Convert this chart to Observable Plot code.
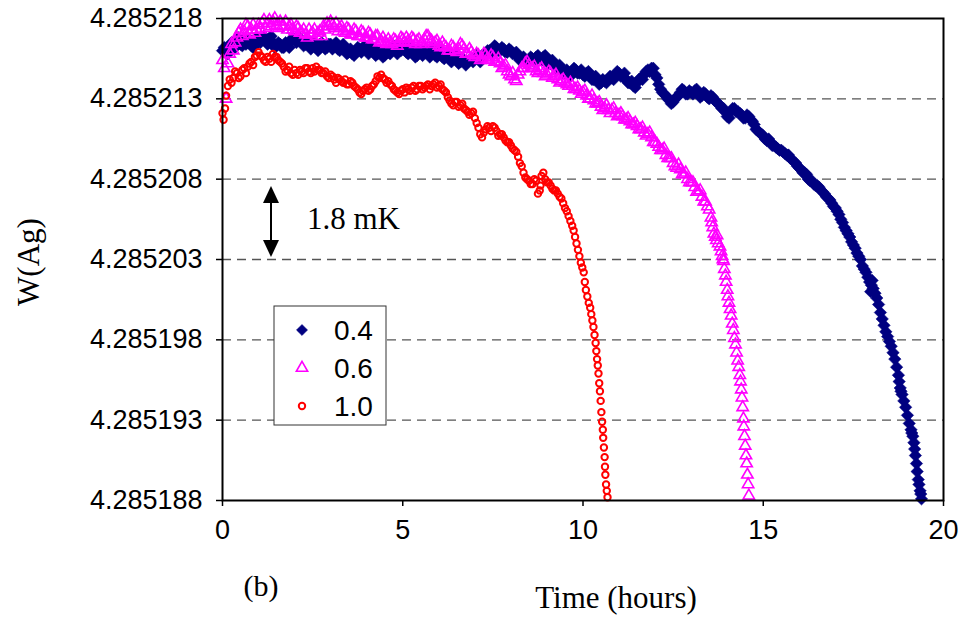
<!DOCTYPE html>
<html><head><meta charset="utf-8">
<script src="https://cdn.jsdelivr.net/npm/d3@7"></script>
<script src="https://cdn.jsdelivr.net/npm/@observablehq/plot@0.6"></script>
<style>body{margin:0;background:#fff}#chart svg{display:block}</style>
</head><body><div id="chart"></div><script>
// Values: [time (hours), W(Ag) offset in units of 1e-6 above 4.285]
const W_BASE = 4.285;
const xTicks = [0, 5, 10, 15, 20];
const yTicks = [4.285188, 4.285193, 4.285198, 4.285203, 4.285208, 4.285213, 4.285218];
const seriesNames = ["0.4", "0.6", "1.0"];

// Series 0.4 (navy diamonds)
const s04 = [
[0,216.0],[0.1,215.9],[0.2,216.2],[0.3,216.3],[0.4,216.5],[0.5,216.4],[0.6,216.7],[0.7,216.5],[0.8,216.3],[0.9,216.5],
[1.0,216.6],[1.1,216.8],[1.2,216.6],[1.3,216.7],[1.4,216.5],[1.5,216.3],[1.6,216.4],[1.7,216.2],[1.8,216.4],[1.9,216.6],
[2.0,216.7],[2.1,216.9],[2.2,216.6],[2.3,216.4],[2.4,216.3],[2.5,216.4],[2.6,216.2],[2.7,216.4],[2.8,216.3],[2.9,216.2],
[3.0,216.4],[3.1,216.3],[3.2,216.1],[3.3,216.2],[3.4,216.1],[3.5,215.9],[3.6,215.8],[3.7,216.0],[3.8,216.1],[3.9,216.2],
[4.0,216.0],[4.1,216.1],[4.2,215.9],[4.3,215.8],[4.4,215.9],[4.5,215.7],[4.6,215.9],[4.7,216.1],[4.8,216.0],[4.9,216.2],
[5.0,216.1],[5.1,215.9],[5.2,216.0],[5.3,215.8],[5.4,215.7],[5.5,215.9],[5.6,216.0],[5.7,215.8],[5.8,215.9],[5.9,215.7],
[6.0,215.8],[6.1,215.6],[6.2,215.7],[6.3,215.5],[6.4,215.6],[6.5,215.4],[6.6,215.3],[6.7,215.4],[6.8,215.3],[6.9,215.5],
[7.0,215.6],[7.1,215.5],[7.2,215.7],[7.3,215.8],[7.4,216.0],[7.5,216.1],[7.6,216.2],[7.7,216.0],[7.8,216.1],[7.9,215.9],
[8.0,216.0],[8.1,215.8],[8.2,215.6],[8.3,215.4],[8.4,215.3],[8.5,215.4],[8.6,215.5],[8.7,215.6],[8.8,215.5],[8.9,215.6],
[9.0,215.4],[9.1,215.2],[9.2,215.1],[9.3,215.0],[9.4,214.8],[9.5,214.6],[9.6,214.5],[9.7,214.7],[9.8,214.8],[9.9,214.6],
[10.0,214.5],[10.1,214.6],[10.2,214.4],[10.3,214.2],[10.4,214.1],[10.5,214.0],[10.6,214.1],[10.7,214.2],[10.8,214.3],[10.9,214.5],
[11.0,214.6],[11.1,214.4],[11.2,214.2],[11.3,214.0],[11.4,213.8],[11.5,214.0],[11.6,214.3],[11.7,214.5],[11.8,214.8],[11.9,214.9],
[12.0,214.5],[12.1,213.9],[12.2,213.4],[12.3,213.2],[12.4,212.9],[12.5,212.8],[12.6,213.1],[12.7,213.4],[12.8,213.5],[12.9,213.3],
[13.0,213.4],[13.1,213.5],[13.2,213.3],[13.3,213.2],[13.4,213.3],[13.5,213.0],[13.6,213.1],[13.7,212.8],[13.8,212.6],[13.9,212.4],
[14.0,211.9],[14.1,212.2],[14.2,212.4],[14.3,212.2],[14.4,212.0],[14.5,211.8],[14.6,211.9],[14.7,211.6],[14.8,211.1],[14.9,210.9],
[15.0,210.7],[15.1,210.4],[15.2,210.3],[15.3,210.1],[15.4,209.9],[15.5,209.8],[15.6,209.6],[15.7,209.5],[15.8,209.2],[15.9,209.0],
[16.0,208.7],[16.1,208.4],[16.2,208.3],[16.3,207.9],[16.4,207.7],[16.5,207.6],[16.6,207.3],[16.7,207.1],[16.8,206.8],[16.9,206.5],
[17.0,206.2],[17.05,206.0],[17.1,205.8],[17.15,205.5],[17.2,205.3],[17.25,205.0],[17.3,204.8],[17.35,204.6],[17.4,204.4],[17.45,204.1],
[17.5,203.9],[17.55,203.7],[17.6,203.4],[17.65,203.2],[17.7,203.0],[17.75,202.6],[17.8,202.4],[17.85,202.2],[17.9,201.9],[17.95,201.6],
[18.0,201.4],[18.05,201.2],[18.1,200.9],[18.15,200.6],[18.2,200.2],[18.25,199.7],[18.3,199.3],[18.35,198.9],[18.4,198.5],[18.45,198.2],
[18.5,197.9],[18.55,197.6],[18.6,197.2],[18.65,196.8],[18.7,196.3],[18.75,195.8],[18.8,195.0],[18.85,194.6],[18.9,194.2],[18.95,193.8],
[19.0,193.3],[19.05,192.8],[19.1,192.4],[19.15,192.0],[19.2,191.2],[19.25,190.3],[19.3,189.3],[19.35,188.6],[19.39,188.1]
];
// Series 0.4, scattered readings between the ones above
const s04b = [
[0.05,216.2],[0.15,215.8],[0.25,216.5],[0.35,216.2],[0.45,216.8],[0.55,216.3],[0.65,216.4],[0.75,216.7],[0.85,216.2],[0.95,216.8],
[1.05,216.5],[1.15,216.9],[1.25,216.4],[1.35,216.9],[1.45,216.2],[1.55,216.5],[1.65,216.2],[1.75,216.5],[1.85,216.2],[1.95,216.8],
[2.05,216.5],[2.15,216.7],[2.25,216.3],[2.35,216.6],[2.45,216.1],[2.55,216.5],[2.65,216.0],[2.75,216.5],[2.85,216.1],[2.95,216.4],
[3.05,216.1],[3.15,216.5],[3.25,216.0],[3.35,216.4],[3.45,215.8],[3.55,216.1],[3.65,215.7],[3.75,216.2],[3.85,215.9],[3.95,216.3],
[4.05,215.8],[4.15,216.2],[4.25,215.7],[4.35,216.0],[4.45,215.6],[4.55,216.0],[4.65,215.8],[4.75,216.3],[4.85,215.8],[4.95,216.0],
[5.05,216.3],[5.15,215.8],[5.25,216.2],[5.35,215.6],[5.45,216.0],[5.55,215.7],[5.65,216.1],[5.75,215.6],[5.85,216.1],[5.95,215.6],
[6.05,216.0],[6.15,215.5],[6.25,215.9],[6.35,215.3],[6.45,215.8],[6.55,215.2],[6.65,215.5],[6.75,215.1],[6.85,215.4],[6.95,215.3],
[7.05,215.7],[7.15,215.3],[7.25,215.6],[7.35,216.0],[7.45,215.8],[7.55,216.3],[7.65,216.0],[7.75,216.2],[7.85,215.9],[7.95,216.1],
[8.05,215.8],[8.15,215.9],[8.25,215.4],[8.35,215.6],[8.45,215.2],[8.55,215.6],[8.65,215.3],[8.75,215.7],[8.85,215.4],[8.95,215.7],
[9.05,215.2],[9.15,215.4],[9.25,214.9],[9.35,215.1],[9.45,214.6],[9.55,214.8],[9.65,214.4],[9.75,214.9],[9.85,214.6],[9.95,214.8],
[10.05,214.4],[10.15,214.7],[10.25,214.2],[10.35,214.4],[10.45,213.9],[10.55,214.2],[10.65,214.0],[10.75,214.4],[10.85,214.2],[10.95,214.7],
[11.05,214.4],[11.15,214.6],[11.25,214.0],[11.35,214.1],[11.45,213.7],[11.55,214.2],[11.65,214.2],[11.75,214.7],[11.85,214.7],[11.95,214.9],
[12.05,214.3],[12.15,213.6],[12.25,213.3],[12.35,213.0],[12.45,212.7],[12.55,213.0],[12.65,213.2],[12.75,213.6],[12.85,213.3],[12.95,213.5],
[13.05,213.3],[13.15,213.6],[13.25,213.1],[13.35,213.4],[13.45,213.1],[13.55,213.2],[13.65,212.9],[13.75,212.7],[13.85,212.4],[13.95,212.2],
[14.05,211.8],[14.15,212.4],[14.25,212.2],[14.35,212.1],[14.45,211.8],[14.55,212.0],[14.65,211.7],[14.75,211.4],[14.85,211.0],[14.95,210.8],
[15.05,210.5],[15.15,210.5],[15.25,210.1],[15.35,210.0],[15.45,209.8],[15.55,209.7],[15.65,209.5],[15.75,209.3],[15.85,209.1],[15.95,208.8],
[16.05,208.6],[16.15,208.4],[16.25,208.0],[16.35,207.9],[16.45,207.6],[16.55,207.5],[16.65,207.2],[16.75,206.9],[16.85,206.7],[16.95,206.3],
[17.98,201.0],[18.02,201.7],[18.77,195.4],[18.82,194.8],[19.12,192.2],[19.18,191.6],[19.22,190.8],[19.27,189.8],[19.32,189.0],[19.37,188.4]
];

// Series 0.6 (magenta open triangles)
const s06 = [
[0,215.4],[0.05,214.9],[0.1,213.0],[0.15,215.2],[0.2,215.8],[0.3,216.0],[0.4,216.8],[0.5,217.3],[0.6,217.2],[0.7,217.5],[0.8,217.3],[0.9,217.1],
[1.0,217.6],[1.1,217.7],[1.2,217.4],[1.3,217.9],[1.4,217.8],[1.5,217.6],[1.6,217.8],[1.7,217.5],[1.8,217.3],[1.9,217.6],
[2.0,217.2],[2.1,217.4],[2.2,217.1],[2.3,217.0],[2.4,217.3],[2.5,217.1],[2.6,216.9],[2.7,217.2],[2.8,217.5],[2.9,217.7],
[3.0,217.8],[3.1,217.4],[3.2,217.2],[3.3,217.5],[3.4,217.1],[3.5,217.3],[3.6,217.0],[3.7,217.2],[3.8,216.9],[3.9,217.1],
[4.0,216.8],[4.1,217.0],[4.2,216.7],[4.3,216.9],[4.4,216.6],[4.5,216.5],[4.6,216.7],[4.7,216.4],[4.8,216.6],[4.9,216.5],
[5.0,216.7],[5.1,216.8],[5.2,216.5],[5.3,216.7],[5.4,216.6],[5.5,216.4],[5.6,216.7],[5.7,216.9],[5.8,216.6],[5.9,216.5],
[6.0,216.3],[6.1,216.5],[6.2,216.2],[6.3,216.0],[6.4,216.2],[6.5,215.9],[6.6,216.4],[6.7,216.1],[6.8,215.8],[6.9,215.9],
[7.0,215.6],[7.1,215.7],[7.2,215.5],[7.3,215.7],[7.4,215.4],[7.5,215.6],[7.6,215.3],[7.7,215.2],[7.8,215.0],[7.9,214.7],
[8.0,214.4],[8.1,214.2],[8.2,214.5],[8.3,214.9],[8.4,215.2],[8.5,215.1],[8.6,214.9],[8.7,214.7],[8.8,214.8],[8.9,214.6],
[9.0,214.5],[9.1,214.6],[9.2,214.4],[9.3,214.2],[9.4,214.1],[9.5,214.0],[9.6,213.8],[9.7,213.8],[9.8,213.6],[9.9,213.5],
[10.0,213.4],[10.1,213.2],[10.2,213.0],[10.3,212.9],[10.4,212.7],[10.5,212.5],[10.6,212.4],[10.7,212.3],[10.8,212.3],[10.9,212.1],
[11.0,212.0],[11.1,211.9],[11.2,211.7],[11.3,211.6],[11.4,211.4],[11.5,211.3],[11.6,211.1],[11.7,210.9],[11.8,210.8],[11.9,210.6],
[12.0,210.3],[12.1,210.0],[12.2,209.8],[12.3,209.5],[12.4,209.3],[12.5,209.0],[12.6,208.7],[12.7,208.6],[12.8,208.3],[12.9,208.0],
[13.0,207.8],[13.1,207.5],[13.2,207.2],[13.3,206.9],[13.4,206.6],[13.45,206.3],[13.5,206.1],[13.55,205.6],[13.6,205.0],[13.63,204.6],
[13.67,204.4],[13.7,204.2],[13.75,204.0],[13.8,203.8],[13.83,203.5],[13.86,203.2],[13.9,202.9],[13.92,202.4],[13.95,202.0],[13.97,201.6],
[14.0,201.1],[14.02,200.7],[14.05,200.3],[14.08,199.9],[14.11,199.5],[14.14,199.0],[14.17,198.6],[14.2,198.1],[14.23,197.7],[14.26,197.2],
[14.29,196.7],[14.32,196.3],[14.35,195.8],[14.37,195.4],[14.39,194.9],[14.41,194.4],[14.43,193.8],[14.45,193.1],[14.46,192.6],[14.48,192.0],
[14.5,191.4],[14.52,190.8],[14.54,190.3],[14.56,189.6],[14.58,189.0],[14.6,188.3]
];
const s06b = [
[0.25,216.4],[0.35,216.5],[0.45,217.1],[0.55,216.9],[0.65,217.6],[0.75,217.0],[0.85,217.6],[0.95,217.3],
[1.05,217.3],[1.15,217.9],[1.25,217.7],[1.35,217.5],[1.45,218.0],[1.55,217.4],[1.65,217.5],[1.75,217.8],[1.85,217.5],[1.95,217.3],
[2.05,217.5],[2.15,217.1],[2.25,217.3],[2.35,216.8],[2.45,217.0],[2.55,217.3],[2.65,217.1],[2.75,216.9],[2.85,217.3],[2.95,217.5],
[3.05,217.6],[3.15,217.7],[3.25,217.4],[3.35,217.2],[3.45,217.4],[3.55,217.0],[3.65,217.3],[3.75,216.9],[3.85,217.2],[3.95,216.8],
[4.05,217.1],[4.15,216.7],[4.25,216.9],[4.35,216.5],[4.45,216.8],[4.55,216.4],[4.65,216.5],[4.75,216.7],[4.85,216.3],[4.95,216.8],
[5.05,216.5],[5.15,216.6],[5.25,216.8],[5.35,216.4],[5.45,216.7],[5.55,216.5],[5.65,216.9],[5.75,216.7],[5.85,216.4],[5.95,216.6],
[6.05,216.2],[6.15,216.3],[6.25,216.0],[6.35,216.3],[6.45,216.0],[6.55,216.1],[6.65,216.3],[6.75,215.8],[6.85,216.1],[6.95,215.7],
[7.05,215.8],[7.15,215.4],[7.25,215.8],[7.35,215.5],[7.45,215.7],[7.55,215.3],[7.65,215.5],[7.75,214.9],[7.85,215.1],[7.95,214.5],
[8.05,214.6],[8.15,214.1],[8.25,214.7],[8.35,214.9],[8.45,215.3],[8.55,214.9],[8.65,215.0],[8.75,214.6],[8.85,214.9],[8.95,214.4],
[9.05,214.7],[9.15,214.3],[9.25,214.5],[9.35,214.0],[9.45,214.2],[9.55,213.9],[9.65,214.0],[9.75,213.6],[9.85,213.7],[9.95,213.3],
[10.05,213.5],[10.15,213.0],[10.25,213.2],[10.35,212.7],[10.45,212.8],[10.55,212.3],[10.65,212.6],[10.75,212.1],[10.85,212.4],[10.95,211.9],
[11.05,212.1],[11.15,211.7],[11.25,211.8],[11.35,211.4],[11.45,211.5],[11.55,211.1],[11.65,211.2],[11.75,210.7],[11.85,210.9],[11.95,210.3],
[12.05,210.2],[12.15,209.8],[12.25,209.9],[12.35,209.3],[12.45,209.3],[12.55,208.8],[12.65,208.9],[12.75,208.3],[12.85,208.4],[12.95,207.8],
[13.05,207.8],[13.15,207.2],[13.25,207.3],[13.35,206.6],[13.57,205.3],[13.72,204.5],[13.88,203.0]
];

// Series 1.0 (red open circles)
const s10 = [
[0,212.1],[0.03,211.7],[0.07,212.4],[0.1,213.2],[0.15,213.8],[0.2,214.2],[0.3,214.3],[0.4,214.6],[0.5,214.4],[0.6,214.9],[0.7,215.0],[0.8,215.3],[0.9,215.6],
[1.0,215.9],[1.1,215.6],[1.2,215.3],[1.3,215.5],[1.4,215.8],[1.5,215.6],[1.6,215.3],[1.7,215.0],[1.8,214.8],[1.9,214.6],
[2.0,214.8],[2.1,214.5],[2.2,214.7],[2.3,214.9],[2.4,214.7],[2.5,214.9],[2.6,215.0],[2.7,214.8],[2.8,214.6],[2.9,214.4],
[3.0,214.5],[3.1,214.2],[3.2,214.3],[3.3,214.1],[3.4,214.2],[3.5,213.9],[3.6,214.0],[3.7,213.7],[3.8,213.4],[3.9,213.5],
[4.0,213.7],[4.1,213.6],[4.2,213.9],[4.3,214.4],[4.4,214.5],[4.5,214.2],[4.6,214.1],[4.7,213.8],[4.8,213.5],[4.9,213.3],
[5.0,213.6],[5.1,213.7],[5.2,213.5],[5.3,213.8],[5.4,213.6],[5.5,213.8],[5.6,213.7],[5.7,213.9],[5.8,213.8],[5.9,214.0],
[6.0,213.8],[6.1,213.6],[6.2,213.4],[6.3,212.9],[6.4,212.6],[6.5,212.8],[6.6,212.6],[6.7,212.4],[6.8,212.2],[6.9,212.1],
[7.0,211.8],[7.1,211.2],[7.15,210.8],[7.2,210.6],[7.3,211.1],[7.4,211.2],[7.5,211.3],[7.6,211.0],[7.7,210.8],[7.8,210.6],[7.9,210.3],
[8.0,210.1],[8.1,209.8],[8.2,209.4],[8.3,208.8],[8.35,208.4],[8.4,208.1],[8.5,207.9],[8.6,207.7],[8.7,207.9],[8.75,207.1],[8.8,207.3],
[8.85,208.2],[8.9,208.4],[8.95,208.0],[9.0,207.8],[9.1,207.6],[9.2,207.3],[9.3,207.1],[9.4,206.8],[9.45,206.5],[9.5,206.2],
[9.55,206.0],[9.6,205.7],[9.65,205.4],[9.7,205.1],[9.74,204.8],[9.78,204.4],[9.82,204.0],[9.86,203.6],[9.9,203.2],[9.94,202.8],
[9.98,202.5],[10.02,202.2],[10.05,201.6],[10.08,201.1],[10.12,200.7],[10.16,200.3],[10.2,200.0],[10.23,199.6],[10.26,199.2],[10.29,198.8],
[10.32,198.3],[10.35,197.8],[10.37,197.3],[10.39,196.8],[10.41,196.4],[10.43,195.9],[10.45,195.3],[10.47,194.8],[10.49,194.2],[10.51,193.5],
[10.53,192.9],[10.55,192.4],[10.56,191.9],[10.58,191.3],[10.6,190.7],[10.61,190.1],[10.62,189.6],[10.64,189.0],[10.66,188.6],[10.68,188.2]
];
const s10b = [
[0.25,214.0],[0.35,214.7],[0.45,214.3],[0.55,214.8],[0.65,214.6],[0.75,215.2],[0.85,215.1],[0.95,215.7],
[1.05,215.7],[1.15,215.4],[1.25,215.6],[1.35,215.3],[1.45,215.6],[1.55,215.4],[1.65,215.2],[1.75,214.7],[1.85,215.0],[1.95,214.5],
[2.05,214.6],[2.15,214.8],[2.25,214.6],[2.35,214.9],[2.45,214.6],[2.55,214.7],[2.65,214.8],[2.75,214.6],[2.85,214.7],[2.95,214.3],
[3.05,214.4],[3.15,214.0],[3.25,214.2],[3.35,214.0],[3.45,213.9],[3.55,214.1],[3.65,213.8],[3.75,213.6],[3.85,213.3],[3.95,213.6],
[4.05,213.5],[4.15,213.8],[4.25,214.1],[4.35,214.3],[4.45,214.3],[4.55,214.0],[4.65,213.9],[4.75,213.6],[4.85,213.4],[4.95,213.5],
[5.05,213.4],[5.15,213.6],[5.25,213.7],[5.35,213.5],[5.45,213.8],[5.55,213.6],[5.65,213.8],[5.75,213.6],[5.85,213.9],[5.95,213.7],
[6.05,213.9],[6.15,213.5],[6.25,213.1],[6.35,212.7],[6.45,212.8],[6.55,212.5],[6.65,212.7],[6.75,212.3],[6.85,212.0],[6.95,212.2],
[7.05,211.5],[7.25,210.9],[7.35,211.3],[7.45,211.0],[7.55,211.2],[7.65,210.7],[7.75,210.8],[7.85,210.4],[7.95,210.3],
[8.05,209.9],[8.15,209.7],[8.25,209.0],[8.45,208.0],[8.55,207.7],[8.65,208.0],[8.82,207.6],[9.05,207.8],[9.15,207.4],[9.25,207.3],[9.35,206.9]
];

const toRows = (arr, s) => arr.map(([t, v]) => ({t, w: W_BASE + v * 1e-6, s}));
const r04 = toRows(s04.concat(s04b), seriesNames[0]);
const r06 = toRows(s06.concat(s06b), seriesNames[1]);
const r10 = toRows(s10.concat(s10b), seriesNames[2]);

const C04 = "#000080", C06 = "#FF00FF", C10 = "#FF0000";
const R04 = 5.6, R06 = 4.2, R10 = 3.2;

const plot = Plot.plot({
  width: 963, height: 617,
  marginLeft: 222, marginRight: 20, marginTop: 18, marginBottom: 117,
  style: {fontFamily: "'Liberation Sans', Arial, sans-serif", fontSize: "27px", color: "#000", background: "#fff"},
  x: {domain: [0, 20]},
  y: {domain: [yTicks[0], yTicks[yTicks.length - 1]]},
  marks: [
    Plot.ruleY(yTicks.slice(1, -1), {stroke: "#555", strokeDasharray: "9,6", strokeWidth: 1.3}),
    Plot.dot(r04, {x: "t", y: "w", symbol: "diamond2", r: R04, fill: C04, stroke: C04, strokeWidth: 0.5}),
    Plot.dot(r06, {x: "t", y: "w", symbol: "triangle", r: R06, fill: "none", stroke: C06, strokeWidth: 1.6}),
    Plot.dot(r10, {x: "t", y: "w", symbol: "circle", r: R10, fill: "none", stroke: C10, strokeWidth: 2}),
    Plot.frame({stroke: "#000", strokeWidth: 2}),
    Plot.axisX(xTicks, {tickSize: 6, tickPadding: 13, tickFormat: d => String(d), label: null, strokeWidth: 1.5}),
    Plot.axisY(yTicks, {tickSize: 6, tickPadding: 14, tickFormat: d => d.toFixed(6), label: null, strokeWidth: 1.5})
  ]
});
document.getElementById("chart").appendChild(plot);

const svg = d3.select(plot);
const serif = "'Liberation Serif', 'Times New Roman', serif";
const sans = "'Liberation Sans', Arial, sans-serif";
svg.append("text").attr("x", 616).attr("y", 608).attr("text-anchor", "middle")
  .attr("font-family", serif).attr("font-size", 31).attr("fill", "#000").text("Time (hours)");
svg.append("text").attr("x", 261).attr("y", 596).attr("text-anchor", "middle")
  .attr("font-family", serif).attr("font-size", 30).attr("fill", "#000").text("(b)");
svg.append("text").attr("transform", "translate(39,262) rotate(-90)").attr("text-anchor", "middle")
  .attr("font-family", serif).attr("font-size", 31).attr("fill", "#000").text("W(Ag)");

// 1.8 mK arrow annotation
const ax = 271;
svg.append("line").attr("x1", ax).attr("x2", ax).attr("y1", 198).attr("y2", 245).attr("stroke", "#000").attr("stroke-width", 2);
svg.append("path").attr("d", `M${ax},186L${ax-8},203L${ax+8},203Z`).attr("fill", "#000");
svg.append("path").attr("d", `M${ax},257L${ax-8},240L${ax+8},240Z`).attr("fill", "#000");
svg.append("text").attr("x", 307).attr("y", 229).attr("text-anchor", "start")
  .attr("font-family", serif).attr("font-size", 31).attr("fill", "#000").text("1.8 mK");

// Legend
const lg = svg.append("g");
lg.append("rect").attr("x", 274).attr("y", 306).attr("width", 112).attr("height", 119)
  .attr("fill", "#fff").attr("stroke", "#333").attr("stroke-width", 1);
const legendItems = [
  {name: seriesNames[0], sym: d3.symbolDiamond2, size: Math.PI * 25, fill: C04, stroke: C04, sw: 0.5},
  {name: seriesNames[1], sym: d3.symbolTriangle, size: Math.PI * R06 * R06, fill: "none", stroke: C06, sw: 1.6},
  {name: seriesNames[2], sym: d3.symbolCircle, size: Math.PI * R10 * R10, fill: "none", stroke: C10, sw: 2}
];
legendItems.forEach((d, i) => {
  const cy = 330 + i * 38;
  lg.append("path").attr("transform", `translate(302,${cy})`).attr("d", d3.symbol(d.sym, d.size)())
    .attr("fill", d.fill).attr("stroke", d.stroke).attr("stroke-width", d.sw);
  lg.append("text").attr("x", 334).attr("y", cy + 10).attr("text-anchor", "start")
    .attr("font-family", sans).attr("font-size", 28).attr("fill", "#000").text(d.name);
});
</script></body></html>
